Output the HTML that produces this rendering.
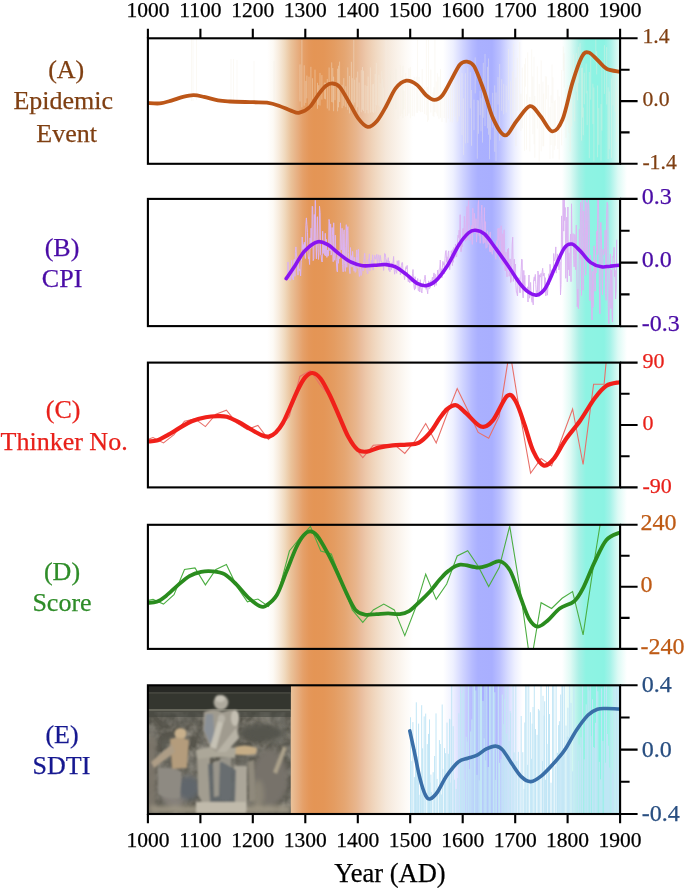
<!DOCTYPE html>
<html><head><meta charset="utf-8"><style>
html,body{margin:0;padding:0;background:#fff;width:685px;height:889px;overflow:hidden}
svg{display:block;font-family:"Liberation Serif",serif;will-change:transform}
</style></head><body>
<svg width="685" height="889" viewBox="0 0 685 889">
<defs><linearGradient id="gO" gradientUnits="userSpaceOnUse" x1="267.0" x2="413.0" y1="0" y2="0"><stop offset="0.0000" stop-color="#ffffff"/><stop offset="0.0411" stop-color="#fdfaf5"/><stop offset="0.0822" stop-color="#f7ebdc"/><stop offset="0.1233" stop-color="#f0d9bd"/><stop offset="0.1644" stop-color="#eac29a"/><stop offset="0.2055" stop-color="#e7b083"/><stop offset="0.2466" stop-color="#e5a069"/><stop offset="0.2877" stop-color="#e4975a"/><stop offset="0.3219" stop-color="#e49555"/><stop offset="0.3904" stop-color="#e49657"/><stop offset="0.4589" stop-color="#e49c61"/><stop offset="0.5342" stop-color="#e5a672"/><stop offset="0.6096" stop-color="#e8b58c"/><stop offset="0.6507" stop-color="#eabfa0"/><stop offset="0.6781" stop-color="#edc8aa"/><stop offset="0.7466" stop-color="#f1d9c2"/><stop offset="0.8151" stop-color="#f5e7d9"/><stop offset="0.8836" stop-color="#f9f1e8"/><stop offset="0.9521" stop-color="#fdfaf6"/><stop offset="1.0000" stop-color="#ffffff"/></linearGradient><linearGradient id="gB" gradientUnits="userSpaceOnUse" x1="443.0" x2="523.0" y1="0" y2="0"><stop offset="0.0000" stop-color="#ffffff"/><stop offset="0.1250" stop-color="#eef0ff"/><stop offset="0.2500" stop-color="#cfd3ff"/><stop offset="0.3625" stop-color="#b6bbff"/><stop offset="0.4375" stop-color="#aab0ff"/><stop offset="0.6125" stop-color="#a9afff"/><stop offset="0.7125" stop-color="#bcc1ff"/><stop offset="0.8125" stop-color="#d8dcff"/><stop offset="0.9000" stop-color="#eef0ff"/><stop offset="1.0000" stop-color="#ffffff"/></linearGradient><linearGradient id="gC" gradientUnits="userSpaceOnUse" x1="562.0" x2="627.0" y1="0" y2="0"><stop offset="0.0000" stop-color="#ffffff"/><stop offset="0.1231" stop-color="#e1faf5"/><stop offset="0.2615" stop-color="#aaf0e6"/><stop offset="0.3692" stop-color="#8ef3e3"/><stop offset="0.6462" stop-color="#8bf3e3"/><stop offset="0.7385" stop-color="#a5f2e8"/><stop offset="0.8615" stop-color="#dcfaf5"/><stop offset="1.0000" stop-color="#ffffff"/></linearGradient>
<filter id="bl1" x="-20%" y="-20%" width="140%" height="140%"><feGaussianBlur stdDeviation="1.2"/></filter>
<filter id="bl2" x="-20%" y="-20%" width="140%" height="140%"><feGaussianBlur stdDeviation="2.5"/></filter>
<filter id="nz" x="0" y="0" width="100%" height="100%"><feTurbulence type="fractalNoise" baseFrequency="0.07" numOctaves="3" seed="4"/><feColorMatrix type="matrix" values="0 0 0 0 0.66  0 0 0 0 0.62  0 0 0 0 0.55  2.2 0 0 0 -0.85"/></filter>
<filter id="nz2" x="0" y="0" width="100%" height="100%"><feTurbulence type="fractalNoise" baseFrequency="0.08" numOctaves="3" seed="9"/><feColorMatrix type="matrix" values="0 0 0 0 0.15  0 0 0 0 0.15  0 0 0 0 0.13  2.2 0 0 0 -0.9"/></filter>

<clipPath id="cpA"><rect x="147.9" y="38.3" width="472.2" height="125.5"/></clipPath>
<clipPath id="cpB"><rect x="147.9" y="198.9" width="472.2" height="127.2"/></clipPath>
<clipPath id="cpC"><rect x="147.9" y="362.6" width="472.2" height="124.8"/></clipPath>
<clipPath id="cpD"><rect x="147.9" y="524.8" width="472.2" height="124.1"/></clipPath>
<clipPath id="cpE"><rect x="147.9" y="685.3" width="472.2" height="128.7"/></clipPath>
</defs>
<rect x="267.0" y="38.5" width="146.0" height="775.3" fill="url(#gO)"/>
<rect x="443.0" y="38.5" width="80.0" height="775.3" fill="url(#gB)"/>
<rect x="562.0" y="38.5" width="65.0" height="775.3" fill="url(#gC)"/>
<rect x="621" y="38.3" width="10" height="125.5" fill="#fff"/>
<rect x="621" y="198.9" width="10" height="127.2" fill="#fff"/>
<rect x="621" y="362.6" width="10" height="124.8" fill="#fff"/>
<rect x="621" y="524.8" width="10" height="124.1" fill="#fff"/>
<rect x="621" y="685.3" width="10" height="128.7" fill="#fff"/>
<path d="M191.5,39.0V101.0 M193.0,39.0V101.0 M196.5,39.0V100.0 M231.0,59.0V101.0 M233.5,59.0V101.0 M237.0,60.0V101.0 M254.0,61.0V101.0 M274.0,61.0V104.0 M300.0,101.5V64.4 M301.9,107.4V40.0 M304.2,105.7V65.3 M305.8,102.9V80.9 M306.9,98.4V75.6 M309.0,108.2V76.7 M310.9,108.9V66.8 M312.6,98.9V78.2 M315.0,100.1V69.6 M317.5,108.8V82.8 M318.7,104.9V85.2 M320.0,105.6V72.9 M321.9,99.6V75.1 M324.4,98.8V82.6 M325.5,99.3V82.8 M327.3,108.5V79.0 M329.1,110.5V67.5 M331.7,102.0V62.4 M332.8,102.5V68.0 M333.6,111.2V76.7 M335.0,100.2V84.0 M337.6,111.3V68.7 M338.5,107.4V65.7 M339.6,102.0V61.6 M342.1,108.2V84.8 M343.8,105.8V78.1 M345.8,107.1V86.3 M347.8,109.8V67.4 M349.6,113.4V75.9 M351.4,106.4V61.8 M352.3,108.3V78.2 M353.8,105.2V40.0 M354.7,102.6V79.7 M356.3,110.5V77.5 M357.7,107.3V71.6 M359.1,114.3V82.5 M361.3,112.2V70.2 M362.5,109.8V67.0 M363.5,111.1V70.7 M365.1,113.3V85.2 M367.0,110.1V86.1 M368.1,113.4V76.6 M370.4,112.6V67.4 M372.3,112.0V84.3 M373.6,113.0V84.0 M375.2,111.5V74.0 M376.3,105.3V62.9 M378.9,105.5V74.7 M380.1,107.0V83.1 M381.8,113.1V70.9 M382.7,113.9V79.1 M383.6,109.1V87.6 M386.0,110.8V40.0 M388.2,114.3V68.1 M389.9,106.8V74.8 M391.3,107.9V70.5 M393.5,116.2V73.3 M395.8,109.3V68.6 M398.0,118.9V86.4 M400.4,116.0V65.6 M402.1,113.8V75.8 M402.9,118.1V65.9 M403.9,109.4V90.8 M405.6,116.1V73.1 M407.5,115.8V80.6 M408.9,113.6V68.1 M410.4,118.3V67.1 M412.3,116.1V86.1 M414.2,116.4V76.8 M416.3,112.8V76.6 M417.5,112.9V40.0 M419.1,110.8V76.9 M420.6,112.1V89.8 M422.2,112.0V69.0 M424.6,114.0V87.2 M426.4,115.2V40.0 M427.5,121.8V86.9 M428.5,120.3V40.0 M430.8,112.6V69.4 M433.1,116.0V92.0 M433.9,116.9V87.1 M434.9,112.0V40.0 M436.3,113.4V81.7 M437.4,116.1V73.3 M438.9,118.9V76.6 M440.5,117.8V69.0 M442.0,122.1V87.1 M444.2,118.0V85.2 M446.2,122.7V91.4 M448.3,118.5V92.0 M450.4,121.7V72.4 M452.3,122.3V76.0 M454.8,116.9V75.7 M457.1,122.5V83.6 M457.9,121.2V80.8 M459.4,116.6V76.7 M462.0,135.0V73.1 M463.6,155.0V98.3 M465.4,143.5V73.2 M467.8,142.9V67.4 M470.3,108.4V72.2 M471.5,145.8V90.0 M474.0,130.1V99.6 M475.2,93.4V57.4 M477.3,158.7V100.0 M478.5,133.8V100.4 M480.1,115.2V90.8 M481.0,131.3V98.2 M482.5,142.6V80.2 M483.3,117.8V62.8 M485.0,126.0V53.9 M487.5,128.3V66.8 M488.5,134.7V58.5 M489.5,159.3V102.0 M490.5,139.7V105.8 M492.7,127.6V92.8 M494.7,151.8V85.4 M496.0,161.0V92.5 M498.0,104.5V77.1 M499.7,140.7V64.0 M501.7,110.8V79.2 M503.7,114.4V83.8 M506.1,112.6V85.5 M508.5,100.2V49.0 M510.6,135.6V81.4 M512.6,113.8V71.5 M513.7,134.8V43.9 M515.9,146.0V77.6 M517.3,110.5V57.9 M519.7,113.0V42.0 M520.9,131.1V93.6 M522.3,128.4V67.6 M524.5,150.9V64.1 M525.5,86.7V58.2 M526.5,149.7V94.3 M527.7,110.2V52.4 M529.8,151.4V96.9 M531.7,106.7V49.4 M532.8,134.3V76.5 M534.0,144.2V56.8 M534.8,157.9V96.0 M537.3,128.6V66.2 M539.2,161.6V84.0 M541.2,151.4V60.3 M542.9,146.3V81.7 M543.7,146.3V93.7 M545.4,127.0V76.2 M546.5,99.1V76.6 M548.2,130.7V84.9 M550.0,159.1V107.1 M551.1,145.0V95.3 M552.0,102.9V64.6 M552.9,158.4V77.3 M554.3,150.1V100.8 M555.3,145.8V99.9 M557.8,149.2V89.8 M559.2,159.8V96.3 M561.6,145.3V70.0 M563.3,70.9V46.7 M564.2,87.7V53.2 M565.9,137.9V88.6 M567.5,122.7V85.1 M569.1,132.9V92.8 M570.2,151.7V102.9 M571.7,126.4V65.3 M573.5,75.1V54.9 M574.7,121.5V94.6 M576.4,91.7V52.9 M577.5,100.3V67.7 M578.3,83.0V46.8 M580.0,65.5V43.2 M581.6,140.7V67.9 M582.5,117.5V67.6 M583.3,135.3V107.6 M584.3,104.3V72.7 M586.2,93.4V63.6 M587.1,125.1V90.7 M589.3,158.2V72.0 M590.7,99.7V56.7 M592.9,124.1V83.7 M593.9,161.3V87.5 M595.8,62.4V39.3 M596.7,74.5V51.1 M597.6,157.3V85.5 M598.8,144.8V108.1 M601.0,160.7V104.1 M601.9,130.6V60.6 M604.4,93.9V45.2 M606.7,104.5V47.1 M608.1,159.0V87.3 M609.3,149.3V91.5 M611.6,158.0V78.3 M613.0,105.5V68.4 M615.2,112.0V73.1 M616.3,142.2V90.2 M618.4,123.7V66.5 M619.5,110.7V89.5" stroke="#f4eee2" stroke-width="0.7" fill="none" opacity="0.55" clip-path="url(#cpA)"/>
<path d="M147.5,102.9 C149.5,103.0 155.7,103.8 159.7,103.4 C163.7,103.0 167.5,101.7 171.4,100.6 C175.3,99.5 179.3,97.8 183.0,96.9 C186.7,96.0 190.0,95.2 193.5,95.2 C197.0,95.2 199.9,96.0 204.0,96.9 C208.1,97.8 213.7,99.6 218.0,100.4 C222.3,101.2 224.0,101.2 229.8,101.5 C235.6,101.8 246.8,102.0 253.0,102.2 C259.2,102.4 262.7,102.1 267.0,102.7 C271.3,103.3 274.7,104.3 278.8,105.7 C282.9,107.1 288.1,109.7 291.5,110.9 C294.9,112.1 296.4,113.4 299.5,112.7 C302.6,112.0 306.6,110.1 309.8,107.0 C313.0,103.9 316.1,97.6 318.7,94.1 C321.3,90.6 323.4,87.7 325.7,85.9 C328.0,84.1 330.4,83.3 332.7,83.5 C335.0,83.7 337.0,83.9 339.7,87.0 C342.4,90.1 345.9,96.9 349.0,102.2 C352.1,107.5 355.3,114.5 358.4,118.6 C361.5,122.7 364.6,126.4 367.7,126.8 C370.8,127.2 373.9,124.4 377.0,120.9 C380.1,117.4 383.3,111.2 386.4,105.7 C389.5,100.2 392.5,92.4 395.8,88.2 C399.1,84.0 402.8,81.3 406.3,80.7 C409.8,80.1 413.5,82.3 416.8,84.7 C420.1,87.1 423.2,92.7 426.1,95.2 C429.0,97.7 431.6,99.9 434.3,99.9 C437.0,99.9 439.6,98.7 442.5,95.2 C445.4,91.7 448.9,84.0 451.8,78.9 C454.7,73.8 457.4,67.4 460.0,64.5 C462.6,61.6 464.7,61.4 467.1,61.7 C469.5,62.0 471.4,61.7 474.2,66.4 C477.0,71.1 480.5,81.3 483.7,90.0 C486.9,98.7 489.6,110.8 493.1,118.4 C496.6,126.0 500.9,135.0 504.9,135.4 C508.8,135.8 512.6,125.7 516.8,120.8 C520.9,115.9 525.9,106.9 529.8,106.1 C533.7,105.3 536.7,111.8 540.4,116.0 C544.1,120.2 548.5,130.8 552.2,131.4 C555.9,132.0 559.1,127.7 562.5,119.6 C565.9,111.5 569.2,93.4 572.4,82.9 C575.6,72.5 579.1,62.0 581.8,56.9 C584.5,51.8 586.0,51.9 588.7,52.5 C591.4,53.1 595.0,57.8 598.0,60.5 C601.0,63.2 603.0,66.8 606.6,68.7 C610.2,70.6 617.5,71.3 619.7,71.8" stroke="#bc5618" stroke-width="3.8" fill="none" stroke-linecap="round" stroke-linejoin="round" clip-path="url(#cpA)"/>
<path d="M287.0,278.6 L287.5,275.0 L288.0,262.0 L288.6,273.4 L289.1,273.8 L289.6,270.7 L290.1,280.4 L290.7,273.3 L291.2,267.4 L291.7,260.4 L292.2,278.5 L292.8,275.7 L293.3,280.0 L293.8,260.5 L294.3,259.1 L294.9,276.4 L295.4,252.3 L295.9,246.9 L296.4,255.1 L297.0,257.3 L297.5,269.8 L298.0,275.1 L298.5,262.3 L299.1,271.1 L299.6,268.9 L300.1,269.8 L300.6,276.0 L301.2,261.3 L301.7,258.5 L302.2,237.0 L302.7,249.3 L303.3,244.5 L303.8,250.5 L304.3,242.2 L304.8,251.3 L305.4,258.5 L305.9,225.6 L306.4,217.9 L306.9,224.5 L307.5,232.8 L308.0,253.1 L308.5,258.7 L309.0,257.4 L309.6,264.5 L310.1,237.9 L310.6,249.0 L311.1,228.2 L311.7,247.6 L312.2,206.1 L312.7,206.7 L313.2,260.6 L313.8,258.7 L314.3,214.5 L314.8,240.4 L315.3,200.3 L315.9,243.1 L316.4,258.9 L316.9,238.2 L317.4,216.7 L318.0,248.7 L318.5,259.4 L319.0,252.3 L319.5,206.2 L320.1,212.7 L320.6,254.9 L321.1,255.1 L321.6,260.8 L322.2,262.0 L322.7,231.2 L323.2,253.5 L323.7,243.5 L324.3,245.6 L324.8,255.2 L325.3,233.3 L325.8,256.0 L326.4,239.4 L326.9,257.4 L327.4,250.0 L327.9,256.1 L328.5,255.7 L329.0,219.4 L329.5,221.5 L330.0,250.8 L330.6,223.9 L331.1,255.1 L331.6,253.1 L332.1,227.5 L332.7,235.5 L333.2,261.7 L333.7,222.8 L334.2,257.1 L334.8,260.3 L335.3,235.2 L335.8,256.1 L336.3,260.5 L336.9,270.2 L337.4,271.9 L337.9,253.6 L338.4,263.3 L339.0,250.2 L339.5,258.7 L340.0,257.2 L340.5,222.9 L341.1,250.0 L341.6,249.2 L342.1,228.3 L342.6,265.6 L343.2,271.8 L343.7,233.3 L344.2,229.8 L344.7,264.5 L345.3,271.4 L345.8,246.3 L346.3,224.7 L346.8,267.3 L347.4,230.2 L347.9,226.6 L348.4,252.5 L348.9,261.6 L349.5,270.1 L350.0,273.6 L350.5,247.6 L351.0,266.4 L351.6,255.7 L352.1,267.2 L352.6,251.4 L353.1,256.7 L353.7,266.9 L354.2,271.2 L354.7,257.3 L355.2,272.4 L355.8,271.5 L356.3,264.0 L356.8,249.9 L357.3,256.7 L357.9,268.3 L358.4,249.2 L358.9,269.5 L359.4,276.5 L360.0,272.4 L360.5,267.7 L361.0,275.6 L361.5,274.7 L362.1,268.6 L362.6,265.0 L363.1,270.9 L363.6,268.7 L364.2,257.8 L364.7,253.3 L365.2,259.6 L365.7,260.1 L366.3,262.6 L366.8,270.4 L367.3,273.2 L367.8,274.0 L368.4,259.0 L368.9,259.7 L369.4,253.9 L369.9,270.9 L370.5,264.1 L371.0,265.5 L371.5,260.3 L372.0,267.3 L372.6,254.8 L373.1,270.1 L373.6,265.6 L374.1,260.1 L374.7,255.3 L375.2,257.9 L375.7,259.2 L376.2,257.4 L376.8,254.3 L377.3,265.9 L377.8,261.2 L378.3,255.3 L378.9,254.8 L379.4,264.8 L379.9,258.4 L380.4,255.5 L381.0,261.4 L381.5,261.4 L382.0,266.1 L382.5,263.3 L383.1,262.1 L383.6,270.4 L384.1,263.4 L384.6,253.4 L385.2,253.9 L385.7,257.4 L386.2,265.3 L386.7,259.7 L387.3,262.1 L387.8,265.5 L388.3,257.7 L388.8,270.3 L389.4,261.4 L389.9,271.8 L390.4,265.3 L390.9,266.0 L391.5,269.8 L392.0,262.8 L392.5,265.6 L393.0,263.6 L393.6,256.5 L394.1,268.8 L394.6,274.2 L395.1,271.2 L395.7,264.4 L396.2,271.3 L396.7,273.3 L397.2,260.8 L397.8,263.4 L398.3,269.0 L398.8,260.5 L399.3,271.0 L399.9,266.7 L400.4,274.7 L400.9,272.7 L401.4,265.7 L402.0,262.4 L402.5,262.7 L403.0,272.5 L403.5,271.0 L404.1,275.6 L404.6,279.6 L405.1,275.0 L405.6,267.9 L406.2,266.5 L406.7,269.1 L407.2,265.4 L407.7,277.5 L408.3,281.7 L408.8,278.4 L409.3,280.9 L409.8,282.7 L410.4,280.2 L410.9,276.4 L411.4,278.4 L411.9,282.0 L412.5,273.7 L413.0,269.5 L413.5,279.2 L414.0,287.4 L414.6,290.1 L415.1,276.7 L415.6,288.6 L416.1,280.1 L416.7,281.2 L417.2,286.1 L417.7,278.5 L418.2,290.5 L418.8,290.9 L419.3,286.0 L419.8,292.0 L420.3,279.7 L420.9,287.7 L421.4,290.8 L421.9,293.0 L422.4,284.2 L423.0,285.5 L423.5,282.6 L424.0,281.6 L424.5,278.6 L425.1,275.2 L425.6,279.8 L426.1,289.4 L426.6,286.6 L427.2,290.6 L427.7,293.8 L428.2,286.9 L428.7,280.8 L429.3,288.7 L429.8,288.4 L430.3,287.0 L430.8,280.4 L431.4,282.1 L431.9,280.4 L432.4,277.2 L432.9,283.1 L433.5,276.6 L434.0,272.9 L434.5,286.6 L435.0,274.2 L435.6,275.3 L436.1,285.4 L436.6,281.4 L437.1,277.0 L437.7,270.1 L438.2,278.2 L438.7,275.8 L439.2,268.8 L439.8,268.4 L440.3,260.0 L440.8,272.3 L441.3,268.8 L441.9,277.9 L442.4,267.3 L442.9,261.4 L443.4,264.7 L444.0,262.7 L444.5,274.0 L445.0,258.6 L445.5,252.2 L446.1,250.5 L446.6,262.3 L447.1,256.8 L447.6,267.5 L448.2,253.2 L448.7,250.9 L449.2,263.6 L449.7,269.7 L450.3,263.3 L450.8,258.9 L451.3,250.7 L451.8,256.4 L452.4,265.6 L452.9,249.5 L453.4,262.3 L453.9,247.5 L454.5,258.3 L455.0,256.2 L455.5,244.0 L456.0,256.0 L456.6,257.0 L457.1,249.4 L457.6,241.1 L458.1,235.2 L458.7,237.6 L459.2,230.1 L459.7,241.1 L460.2,214.7 L460.8,251.7 L461.3,251.7 L461.8,242.4 L462.3,246.8 L462.9,228.6 L463.4,228.5 L463.9,235.0 L464.4,216.3 L465.0,229.3 L465.5,241.3 L466.0,240.3 L466.5,216.1 L467.1,206.5 L467.6,239.7 L468.1,214.4 L468.6,200.6 L469.2,224.8 L469.7,226.5 L470.2,240.3 L470.7,232.6 L471.3,231.9 L471.8,225.3 L472.3,244.4 L472.8,208.2 L473.4,225.4 L473.9,233.1 L474.4,213.3 L474.9,223.1 L475.5,229.3 L476.0,218.7 L476.5,242.1 L477.0,232.1 L477.6,233.9 L478.1,204.7 L478.6,200.5 L479.1,235.5 L479.7,233.6 L480.2,243.3 L480.7,236.6 L481.2,215.3 L481.8,205.1 L482.3,229.0 L482.8,238.3 L483.3,243.5 L483.9,230.8 L484.4,207.6 L484.9,242.7 L485.4,221.6 L486.0,248.3 L486.5,247.8 L487.0,247.3 L487.5,230.8 L488.1,243.0 L488.6,244.3 L489.1,234.8 L489.6,251.5 L490.2,231.9 L490.7,252.0 L491.2,244.4 L491.7,250.9 L492.3,254.3 L492.8,245.9 L493.3,247.5 L493.8,250.1 L494.4,250.1 L494.9,247.1 L495.4,257.9 L495.9,259.3 L496.5,245.8 L497.0,240.6 L497.5,247.1 L498.0,228.5 L498.6,240.6 L499.1,228.0 L499.6,259.3 L500.1,241.6 L500.7,232.9 L501.2,225.8 L501.7,259.4 L502.2,263.4 L502.8,233.8 L503.3,264.9 L503.8,230.5 L504.3,229.8 L504.9,269.0 L505.4,271.0 L505.9,252.2 L506.4,269.4 L507.0,276.9 L507.5,249.3 L508.0,266.5 L508.5,248.2 L509.1,276.3 L509.6,272.6 L510.1,258.9 L510.6,282.5 L511.2,281.5 L511.7,264.4 L512.2,244.2 L512.7,237.2 L513.3,281.4 L513.8,275.7 L514.3,259.2 L514.8,272.5 L515.4,264.1 L515.9,285.3 L516.4,292.2 L516.9,293.1 L517.5,296.0 L518.0,282.3 L518.5,281.2 L519.0,277.7 L519.6,292.7 L520.1,292.2 L520.6,292.5 L521.1,271.9 L521.7,259.1 L522.2,260.0 L522.7,292.9 L523.2,297.9 L523.8,270.4 L524.3,286.2 L524.8,275.3 L525.3,291.5 L525.9,290.6 L526.4,289.7 L526.9,292.0 L527.4,286.8 L528.0,302.0 L528.5,286.9 L529.0,275.0 L529.5,298.2 L530.1,295.0 L530.6,282.4 L531.1,294.3 L531.6,300.4 L532.2,302.4 L532.7,295.1 L533.2,304.9 L533.7,279.8 L534.3,276.8 L534.8,280.9 L535.3,274.4 L535.8,284.3 L536.4,295.8 L536.9,290.5 L537.4,293.7 L537.9,271.0 L538.5,274.6 L539.0,297.1 L539.5,274.8 L540.0,277.2 L540.6,275.7 L541.1,273.3 L541.6,291.6 L542.1,271.9 L542.7,268.3 L543.2,276.1 L543.7,273.8 L544.2,273.1 L544.8,289.2 L545.3,277.7 L545.8,295.9 L546.3,291.4 L546.9,286.7 L547.4,295.2 L547.9,288.2 L548.4,277.3 L549.0,273.7 L549.5,284.7 L550.0,264.3 L550.5,268.5 L551.1,278.6 L551.6,270.1 L552.1,270.4 L552.6,270.8 L553.2,273.8 L553.7,253.5 L554.2,260.9 L554.7,259.4 L555.3,256.1 L555.8,246.9 L556.3,273.1 L556.8,262.3 L557.4,253.9 L557.9,265.9 L558.4,263.5 L558.9,270.0 L559.5,267.2 L560.0,261.7 L560.5,294.9 L561.0,284.6 L561.6,215.9 L562.1,239.5 L562.6,248.0 L563.1,197.4 L563.7,231.1 L564.2,189.1 L564.7,220.6 L565.2,207.5 L565.8,278.3 L566.3,244.0 L566.8,217.1 L567.3,281.9 L567.9,207.0 L568.4,269.7 L568.9,252.9 L569.4,275.9 L570.0,251.6 L570.5,234.0 L571.0,281.7 L571.5,203.8 L572.1,244.9 L572.6,241.9 L573.1,233.6 L573.6,255.6 L574.2,266.9 L574.7,234.4 L575.2,236.4 L575.7,269.7 L576.3,225.1 L576.8,267.0 L577.3,306.8 L577.8,289.2 L578.4,308.7 L578.9,300.2 L579.4,229.2 L579.9,259.3 L580.5,202.3 L581.0,210.2 L581.5,295.5 L582.0,200.2 L582.6,186.1 L583.1,290.1 L583.6,211.0 L584.1,255.5 L584.7,258.4 L585.2,196.4 L585.7,275.2 L586.2,258.6 L586.8,202.4 L587.3,219.1 L587.8,255.4 L588.3,197.8 L588.9,207.5 L589.4,237.2 L589.9,300.6 L590.4,255.2 L591.0,266.4 L591.5,296.8 L592.0,320.0 L592.5,271.5 L593.1,307.2 L593.6,278.9 L594.1,245.9 L594.6,265.9 L595.2,291.3 L595.7,260.2 L596.2,273.0 L596.7,231.3 L597.3,254.5 L597.8,199.5 L598.3,194.5 L598.8,221.6 L599.4,287.6 L599.9,313.8 L600.4,227.0 L600.9,222.4 L601.5,241.9 L602.0,278.2 L602.5,294.6 L603.0,249.4 L603.6,254.9 L604.1,252.5 L604.6,246.7 L605.1,230.1 L605.7,294.9 L606.2,300.3 L606.7,212.7 L607.2,202.4 L607.8,205.1 L608.3,307.2 L608.8,323.6 L609.3,303.4 L609.9,282.0 L610.4,254.0 L610.9,308.5 L611.4,269.9 L612.0,314.6 L612.5,322.0 L613.0,256.2 L613.5,257.4 L614.1,247.3 L614.6,276.7 L615.1,270.3 L615.6,299.0 L616.2,289.8 L616.7,239.7" stroke="#dcb4f2" stroke-width="1" fill="none" clip-path="url(#cpB)"/>
<path d="M286.2,278.6 C287.7,276.5 292.0,270.2 295.0,265.7 C298.0,261.1 300.7,255.3 304.4,251.3 C308.1,247.3 313.3,243.0 317.2,241.9 C321.1,240.8 324.0,242.7 327.7,244.7 C331.4,246.7 335.5,251.2 339.4,254.1 C343.3,257.0 347.2,260.3 351.1,262.2 C355.0,264.1 358.9,265.2 362.8,265.7 C366.7,266.2 370.6,265.5 374.5,265.3 C378.4,265.1 382.6,264.3 386.1,264.6 C389.6,264.9 392.0,265.1 395.5,266.9 C399.0,268.6 403.6,272.4 407.2,275.1 C410.8,277.8 413.8,281.6 417.0,283.3 C420.2,285.1 423.3,286.0 426.4,285.6 C429.5,285.2 432.2,284.2 435.7,280.9 C439.2,277.6 443.5,271.7 447.4,265.7 C451.3,259.7 455.5,250.1 459.0,244.7 C462.5,239.2 465.7,235.4 468.4,233.0 C471.1,230.6 472.7,230.0 475.4,230.2 C478.1,230.4 481.2,231.0 484.7,234.2 C488.2,237.4 492.5,244.2 496.4,249.4 C500.3,254.7 504.2,260.1 508.1,265.7 C512.0,271.3 516.3,278.8 519.8,283.3 C523.3,287.8 526.2,290.7 529.1,292.6 C532.0,294.5 534.6,295.7 537.3,294.9 C540.0,294.1 542.6,292.4 545.5,287.9 C548.4,283.4 551.7,274.7 554.8,268.1 C557.9,261.5 561.4,252.2 564.2,248.2 C567.0,244.2 569.1,243.6 571.8,244.1 C574.5,244.6 577.0,247.8 580.2,250.9 C583.4,254.0 587.3,260.0 590.8,262.6 C594.3,265.2 598.2,266.2 601.4,266.8 C604.6,267.4 606.9,266.4 609.9,266.2 C612.9,265.9 617.8,265.4 619.4,265.3" stroke="#8a14f0" stroke-width="3.6" fill="none" stroke-linecap="round" stroke-linejoin="round" clip-path="url(#cpB)"/>
<path d="M147.5,439.4 L153.0,437.6 L163.5,442.9 L174.0,434.7 L184.5,421.2 L195.0,418.9 L205.4,426.6 L215.9,414.2 L226.4,410.2 L236.9,423.1 L247.4,429.6 L257.9,425.4 L268.4,439.4 L278.9,430.0 L289.4,416.0 L299.9,376.4 L310.4,370.5 L320.8,385.7 L331.3,398.0 L341.8,422.0 L352.3,445.0 L362.8,457.6 L373.3,445.3 L383.8,444.6 L394.3,444.6 L404.8,453.4 L415.2,440.6 L425.7,423.5 L436.2,442.9 L446.7,415.0 L457.2,388.6 L467.7,410.0 L478.2,432.4 L488.7,438.2 L499.2,416.3 L509.7,350.0 L520.2,415.0 L530.6,473.2 L541.1,458.6 L551.6,466.0 L562.1,437.5 L572.6,409.0 L583.1,464.5 L593.6,384.2 L604.1,384.2 L614.6,270.0" stroke="#e8706a" stroke-width="1.1" fill="none" clip-path="url(#cpC)"/>
<path d="M147.5,441.3 C149.0,441.2 153.2,441.7 156.7,440.6 C160.2,439.5 164.5,436.9 168.4,434.7 C172.3,432.5 176.1,429.9 180.0,427.7 C183.9,425.4 187.4,422.9 191.7,421.2 C196.0,419.4 201.4,418.0 205.7,417.2 C210.0,416.4 213.9,416.2 217.4,416.1 C220.9,416.0 223.3,415.8 226.8,416.8 C230.3,417.8 234.5,419.9 238.4,421.9 C242.3,423.9 246.2,426.7 250.1,428.9 C254.0,431.1 258.7,433.9 261.8,435.2 C264.9,436.5 266.5,437.1 268.8,436.6 C271.1,436.1 273.5,434.6 275.8,432.4 C278.1,430.1 280.5,427.2 282.8,423.1 C285.1,419.0 287.3,413.6 289.8,408.0 C292.3,402.4 295.5,394.6 298.0,389.5 C300.5,384.4 302.6,380.2 305.0,377.5 C307.4,374.8 309.9,372.8 312.5,373.0 C315.1,373.2 317.6,374.8 320.5,378.5 C323.4,382.2 326.6,388.7 329.7,395.0 C332.8,401.3 336.0,409.1 339.1,416.1 C342.2,423.1 345.3,431.5 348.4,437.1 C351.5,442.7 354.6,447.5 357.7,449.9 C360.8,452.3 363.6,452.0 367.1,451.6 C370.6,451.2 374.5,448.7 378.8,447.6 C383.1,446.6 388.1,445.8 392.8,445.3 C397.5,444.8 402.5,445.0 406.8,444.6 C411.1,444.2 414.6,444.9 418.5,442.9 C422.4,440.9 426.6,436.6 430.2,432.4 C433.8,428.2 437.1,421.7 440.0,417.8 C442.9,413.9 444.6,411.1 447.3,409.0 C450.0,406.9 452.9,404.5 456.1,405.2 C459.3,405.9 462.2,409.8 466.3,413.4 C470.4,416.9 476.5,425.3 480.9,426.5 C485.3,427.7 488.2,425.8 492.6,420.7 C497.0,415.6 503.3,399.1 507.2,395.9 C511.1,392.7 513.0,396.8 515.9,401.7 C518.8,406.6 521.8,416.8 524.7,425.1 C527.6,433.4 530.2,444.7 533.4,451.4 C536.5,458.1 540.2,464.2 543.6,465.4 C547.0,466.6 550.2,462.9 553.9,458.6 C557.5,454.3 561.1,446.0 565.5,439.7 C569.9,433.4 575.2,427.6 580.1,420.7 C585.0,413.8 590.3,404.0 594.7,398.2 C599.1,392.4 602.2,388.4 606.4,385.7 C610.5,383.0 617.4,382.8 619.6,382.2" stroke="#f0201a" stroke-width="4.2" fill="none" stroke-linecap="round" stroke-linejoin="round" clip-path="url(#cpC)"/>
<path d="M147.5,600.6 L153.0,599.4 L163.5,604.1 L174.0,594.7 L184.5,569.5 L195.0,567.9 L205.4,584.9 L215.9,569.5 L226.4,564.4 L236.9,586.6 L247.4,601.8 L257.9,599.0 L268.4,606.4 L278.9,590.1 L289.4,551.0 L299.9,538.0 L310.4,526.4 L320.8,551.0 L331.3,554.0 L341.8,582.0 L352.3,609.9 L362.8,622.3 L373.3,609.9 L383.8,604.1 L394.3,609.9 L404.8,635.6 L415.2,608.8 L425.7,574.2 L436.2,599.4 L446.7,584.0 L457.2,556.0 L467.7,550.7 L478.2,566.2 L488.7,586.6 L499.2,567.6 L509.7,526.2 L520.2,590.0 L530.6,665.0 L541.1,602.7 L551.6,608.5 L562.1,598.3 L572.6,591.6 L583.1,634.8 L593.6,565.0 L604.1,500.0 L614.6,480.0" stroke="#4cae42" stroke-width="1.1" fill="none" clip-path="url(#cpD)"/>
<path d="M147.5,602.9 C149.0,602.7 153.6,603.0 156.7,601.8 C159.8,600.6 162.5,598.6 166.0,595.9 C169.5,593.2 173.8,588.7 177.7,585.4 C181.6,582.1 185.5,578.4 189.4,576.1 C193.3,573.9 197.2,572.7 201.1,571.9 C205.0,571.1 208.8,571.0 212.7,571.4 C216.6,571.8 220.5,572.1 224.4,574.2 C228.3,576.3 232.2,580.4 236.1,584.2 C240.0,588.0 243.9,593.5 247.8,597.1 C251.7,600.7 256.4,604.6 259.5,606.0 C262.6,607.4 263.6,607.2 266.5,605.3 C269.4,603.4 273.7,600.4 277.0,594.7 C280.3,589.1 283.3,579.2 286.5,571.4 C289.7,563.6 293.2,554.0 296.0,548.0 C298.8,542.0 301.1,538.3 303.5,535.5 C305.9,532.7 307.9,531.4 310.2,531.4 C312.4,531.4 314.1,532.0 317.0,535.5 C319.9,539.0 324.1,546.7 327.4,552.7 C330.7,558.7 333.6,564.8 336.7,571.4 C339.8,578.0 343.0,586.0 346.1,592.4 C349.2,598.8 352.3,606.2 355.4,609.9 C358.5,613.6 361.2,613.9 364.7,614.6 C368.2,615.3 372.5,614.3 376.4,614.1 C380.3,613.9 384.2,613.4 388.1,613.4 C392.0,613.4 396.3,614.5 399.8,614.1 C403.3,613.7 406.0,613.0 409.1,611.1 C412.2,609.2 415.0,606.2 418.5,602.9 C422.0,599.6 426.6,595.1 430.2,591.2 C433.8,587.3 436.9,582.7 440.0,579.3 C443.1,575.9 445.4,573.0 448.8,570.6 C452.2,568.2 455.5,565.2 460.4,564.7 C465.3,564.2 473.1,567.6 478.0,567.6 C482.9,567.6 486.0,565.8 489.6,564.7 C493.2,563.6 496.5,560.2 499.9,561.2 C503.3,562.2 506.7,564.7 510.1,570.6 C513.5,576.5 517.1,588.8 520.3,596.8 C523.4,604.8 526.1,613.7 529.0,618.7 C531.9,623.7 534.6,626.4 537.8,626.6 C541.0,626.9 544.4,623.2 548.0,620.2 C551.6,617.2 555.3,611.7 559.7,608.5 C564.1,605.3 570.4,604.6 574.3,601.2 C578.2,597.8 579.7,594.7 583.1,588.1 C586.5,581.5 590.8,569.8 594.7,561.8 C598.6,553.8 602.2,544.8 606.4,539.9 C610.5,535.0 617.4,533.8 619.6,532.6" stroke="#2a8c1e" stroke-width="3.8" fill="none" stroke-linecap="round" stroke-linejoin="round" clip-path="url(#cpD)"/>
<path d="M410.5,813.4V717.3 M411.8,813.4V761.1 M412.9,813.4V722.1 M414.4,813.4V777.1 M415.5,813.4V749.0 M416.3,813.4V702.3 M417.2,813.4V756.4 M417.8,813.4V775.8 M418.6,813.4V723.6 M419.1,813.4V794.8 M420.5,813.4V783.4 M421.7,813.4V705.2 M422.6,813.4V748.3 M423.3,813.4V790.5 M424.2,813.4V716.4 M425.7,813.4V713.6 M427.3,813.4V744.1 M428.5,813.4V733.9 M429.5,813.4V719.4 M430.1,813.4V782.5 M430.9,813.4V774.6 M431.6,813.4V792.1 M433.2,813.4V772.2 M434.6,813.4V756.0 M436.0,813.4V713.4 M437.1,813.4V778.9 M437.8,813.4V787.9 M439.4,813.4V740.1 M440.3,813.4V744.0 M441.3,813.4V794.5 M442.2,813.4V704.5 M442.8,813.4V768.8 M444.5,813.4V748.1 M445.6,813.4V753.2 M447.0,813.4V722.6 M448.3,813.4V753.8 M449.5,813.4V718.8 M450.2,813.4V782.6 M451.1,813.4V719.3 M451.7,813.4V685.0 M453.2,813.4V726.2 M454.5,813.4V779.7 M456.2,813.4V788.9 M457.8,813.4V778.1 M458.9,813.4V713.2 M460.5,813.4V685.0 M461.1,813.4V766.9 M462.1,813.4V693.3 M463.0,813.4V685.0 M464.0,813.4V685.0 M464.5,813.4V779.7 M466.2,813.4V736.9 M467.0,813.4V741.6 M468.4,813.4V685.0 M469.2,813.4V769.1 M470.7,813.4V731.5 M471.9,813.4V719.4 M473.1,813.4V685.0 M474.5,813.4V685.0 M475.8,813.4V690.4 M477.0,813.4V774.9 M478.2,813.4V685.0 M479.2,813.4V780.4 M479.9,813.4V685.0 M480.5,813.4V685.0 M481.5,813.4V685.0 M483.0,813.4V700.9 M484.2,813.4V738.4 M485.0,813.4V685.0 M485.7,813.4V760.4 M486.8,813.4V685.0 M488.2,813.4V767.0 M489.6,813.4V685.0 M490.7,813.4V685.0 M492.1,813.4V685.0 M493.5,813.4V685.0 M494.8,813.4V692.3 M495.8,813.4V779.9 M496.6,813.4V744.0 M498.3,813.4V685.0 M499.5,813.4V762.9 M501.1,813.4V759.3 M502.3,813.4V694.5 M503.8,813.4V724.2 M504.6,813.4V699.0 M505.2,813.4V685.0 M506.7,813.4V733.7 M507.9,813.4V685.0 M509.2,813.4V740.8 M510.2,813.4V711.0 M510.7,813.4V713.2 M512.1,813.4V761.8 M513.1,813.4V685.0 M514.1,813.4V752.4 M515.8,813.4V685.0 M516.8,813.4V761.2 M518.4,813.4V751.9 M519.8,813.4V775.6 M521.2,813.4V716.0 M522.8,813.4V752.2 M524.2,813.4V788.9 M524.8,813.4V722.5 M525.7,813.4V685.0 M526.9,813.4V685.0 M527.7,813.4V764.8 M528.8,813.4V685.0 M530.4,813.4V712.2 M531.4,813.4V758.8 M532.2,813.4V723.6 M533.0,813.4V707.0 M534.3,813.4V685.0 M535.5,813.4V729.1 M537.1,813.4V734.8 M538.4,813.4V709.1 M539.3,813.4V710.5 M541.0,813.4V685.0 M542.5,813.4V761.1 M543.0,813.4V695.8 M544.2,813.4V715.5 M544.7,813.4V701.3 M545.6,813.4V779.7 M546.5,813.4V685.0 M548.0,813.4V743.9 M548.5,813.4V685.0 M549.5,813.4V714.1 M551.0,813.4V782.7 M552.6,813.4V685.0 M553.8,813.4V685.0 M555.3,813.4V766.4 M556.1,813.4V685.0 M557.5,813.4V752.8 M558.6,813.4V725.1 M559.4,813.4V721.2 M560.7,813.4V694.5 M561.3,813.4V750.4 M562.0,813.4V685.0 M562.6,813.4V685.0 M563.6,813.4V748.1 M564.3,813.4V685.0 M566.0,813.4V725.6 M567.3,813.4V736.3 M567.9,813.4V707.7 M568.4,813.4V737.0 M569.7,813.4V685.0 M571.0,813.4V702.9 M572.6,813.4V771.4 M573.9,813.4V685.0 M575.3,813.4V737.1 M576.9,813.4V723.9 M578.5,813.4V761.0 M579.0,813.4V744.5 M580.3,813.4V747.5 M581.0,813.4V737.3 M582.5,813.4V685.0 M584.2,813.4V759.4 M585.6,813.4V721.3 M586.2,813.4V704.4 M587.4,813.4V721.3 M588.0,813.4V685.0 M589.0,813.4V690.4 M590.3,813.4V685.0 M590.9,813.4V736.1 M592.5,813.4V699.3 M593.3,813.4V747.0 M594.7,813.4V747.9 M595.5,813.4V722.8 M596.6,813.4V685.0 M597.8,813.4V691.3 M599.3,813.4V761.9 M600.6,813.4V779.4 M601.6,813.4V688.3 M602.9,813.4V741.0 M604.6,813.4V685.0 M605.4,813.4V762.7 M606.4,813.4V685.0 M607.4,813.4V734.0 M608.4,813.4V745.8 M609.7,813.4V767.6 M611.1,813.4V711.0 M612.5,813.4V773.4 M613.2,813.4V769.9 M613.8,813.4V685.0 M615.1,813.4V685.0 M616.6,813.4V685.0 M617.9,813.4V685.0 M618.7,813.4V685.0 M619.8,813.4V708.0" stroke="#c2e6f6" stroke-width="1" fill="none" clip-path="url(#cpE)"/>
<path d="M409.8,730.9 C410.5,734.1 412.3,742.2 414.0,750.1 C415.7,758.0 417.9,770.5 419.9,778.1 C421.8,785.7 423.9,792.2 425.7,795.6 C427.4,799.0 428.4,799.3 430.4,798.7 C432.3,798.1 434.7,795.9 437.4,792.1 C440.1,788.3 443.2,780.8 446.7,775.8 C450.2,770.8 454.9,764.7 458.4,761.8 C461.9,758.9 464.6,759.4 467.7,758.3 C470.8,757.2 474.0,756.8 477.1,755.2 C480.2,753.6 483.3,750.4 486.4,748.9 C489.5,747.4 493.1,745.9 495.8,746.1 C498.5,746.3 500.1,747.1 502.8,750.1 C505.5,753.1 509.0,759.6 512.1,764.1 C515.2,768.6 518.4,774.0 521.5,776.9 C524.6,779.8 527.5,781.8 530.8,781.6 C534.1,781.4 537.7,778.7 541.4,775.8 C545.1,772.9 549.1,768.4 553.0,764.1 C556.9,759.8 560.8,755.8 564.7,750.1 C568.6,744.5 572.5,736.1 576.4,730.2 C580.3,724.4 584.6,718.5 588.1,715.0 C591.6,711.5 594.3,710.3 597.4,709.2 C600.5,708.1 603.1,708.5 606.8,708.5 C610.5,708.5 617.5,708.9 619.6,709.0" stroke="#3a6fa8" stroke-width="3.6" fill="none" stroke-linecap="round" stroke-linejoin="round" clip-path="url(#cpE)"/>
<clipPath id="cpPh"><rect x="148" y="685.5" width="142.7" height="127.5"/></clipPath>

<g clip-path="url(#cpPh)">
<rect x="148" y="685" width="143" height="128" fill="#57554c"/>
<rect x="148" y="712" width="143" height="101" filter="url(#nz)" opacity="0.45"/>
<rect x="148" y="712" width="143" height="101" filter="url(#nz2)" opacity="0.6"/>
<rect x="148" y="685" width="143" height="25" fill="#34362f"/>
<rect x="148" y="686" width="143" height="6.5" fill="#282925"/>
<rect x="148" y="692.3" width="143" height="1.2" fill="#4e4e46"/>
<rect x="148" y="709" width="143" height="2" fill="#66665b"/>
<rect x="148" y="711" width="143" height="6" fill="#43443d" opacity="0.6"/>
<g filter="url(#bl2)">
 <rect x="147" y="737" width="9" height="74" fill="#7c766a"/>
 <ellipse cx="175" cy="792" rx="15" ry="14" fill="#86817a"/>
 <ellipse cx="188" cy="788" rx="12" ry="12" fill="#60666c"/>
 <ellipse cx="262" cy="733" rx="22" ry="8" fill="#55554d"/>
 <ellipse cx="270" cy="778" rx="18" ry="28" fill="#77726a"/>
 <ellipse cx="258" cy="795" rx="6" ry="15" fill="#8a8476"/>
 <rect x="150" y="806" width="140" height="7" fill="#9e9684"/>
</g>
<g filter="url(#bl1)">
 <ellipse cx="180.5" cy="733.5" rx="6" ry="5.5" fill="#c8b08c"/>
 <path d="M170,739 Q179,736 189,740 L187,768 L172,769 Z" fill="#b49c7c"/>
 <path d="M172,744 L151,762 L154,768 L175,752 Z" fill="#ad9d86"/>
 <path d="M158,768 Q172,766 182,772 L180,798 Q168,800 158,794 Z" fill="#8e8a82"/>
 <path d="M233,748 Q244,743 257,748 L256,754 Q244,756 232,754 Z" fill="#c6ad86"/>
 <path d="M283,746 L287,748 L277,774 L273,772 Z" fill="#aaa08a"/>
 <path d="M248,762 L254,760 L256,800 L249,802 Z" fill="#8f897b"/>
 <rect x="234" y="766" width="13" height="45" fill="#aba699"/>
 <path d="M197,756 L210,755 L210,797 L215,802 L203,804 L198,795 Z" fill="#a29d90"/>
 <path d="M220,758 L231,757 L232,797 L228,802 L220,800 Z" fill="#98948a"/>
 <path d="M208,764 L222,762 L236,770 L235,802 L210,802 Z" fill="#62686c" opacity="0.9"/>
 <path d="M213,762 L220,760 L219,796 L214,797 Z" fill="#9a968c"/>
 <path d="M196,750 Q215,744 236,748 L235,758 Q215,756 197,759 Z" fill="#aca799"/>
 <path d="M204,712 Q214,707 222,712 L230,710 Q238,709 239,716 L237,740 L226,752 L216,752 L210,747 L203,730 Z" fill="#a09b8f"/>
 <ellipse cx="235" cy="718" rx="4" ry="8" fill="#c4bfb2"/>
 <path d="M206,714 L213,714 L215,740 L210,744 L204,730 Z" fill="#8a9096"/>
 <path d="M210,747 L216,749 L224,720 L219,717 Z" fill="#c6c2b5"/>
 <path d="M236,728 L239,738 L226,752 L217,752 Z" fill="#b8b3a6"/>
 <ellipse cx="221.5" cy="718.5" rx="3.5" ry="4" fill="#b8b4a8"/>
 <ellipse cx="221" cy="702.5" rx="7.3" ry="7.5" fill="#aeaa9e"/>
 <ellipse cx="220" cy="698.5" rx="5" ry="3.5" fill="#c6c2b6"/>
 <rect x="196" y="802" width="50" height="11" fill="#c0baab"/>
</g>
</g>

<rect x="147.9" y="38.3" width="472.2" height="125.5" fill="none" stroke="#000" stroke-width="2.1"/>
<rect x="147.9" y="198.9" width="472.2" height="127.2" fill="none" stroke="#000" stroke-width="2.1"/>
<rect x="147.9" y="362.6" width="472.2" height="124.8" fill="none" stroke="#000" stroke-width="2.1"/>
<rect x="147.9" y="524.8" width="472.2" height="124.1" fill="none" stroke="#000" stroke-width="2.1"/>
<rect x="147.9" y="685.3" width="472.2" height="128.7" fill="none" stroke="#000" stroke-width="2.1"/>
<path d="M147.9,38.3V28.8 M147.9,814.0V823.3 M200.4,38.3V28.8 M200.4,814.0V823.3 M252.8,38.3V28.8 M252.8,814.0V823.3 M305.3,38.3V28.8 M305.3,814.0V823.3 M357.8,38.3V28.8 M357.8,814.0V823.3 M410.2,38.3V28.8 M410.2,814.0V823.3 M462.7,38.3V28.8 M462.7,814.0V823.3 M515.2,38.3V28.8 M515.2,814.0V823.3 M567.6,38.3V28.8 M567.6,814.0V823.3 M620.1,38.3V28.8 M620.1,814.0V823.3 M620.1,38.3H637.6 M620.1,69.7H629.6 M620.1,101.1H637.6 M620.1,132.4H629.6 M620.1,163.8H637.6 M620.1,198.9H637.6 M620.1,230.8H629.6 M620.1,262.6H637.6 M620.1,294.4H629.6 M620.1,326.2H637.6 M620.1,362.6H637.6 M620.1,393.8H629.6 M620.1,425.0H637.6 M620.1,456.2H629.6 M620.1,487.4H637.6 M620.1,524.8H637.6 M620.1,555.8H629.6 M620.1,586.8H637.6 M620.1,617.9H629.6 M620.1,648.9H637.6 M620.1,685.3H637.6 M620.1,717.5H629.6 M620.1,749.6H637.6 M620.1,781.8H629.6 M620.1,814.0H637.6" stroke="#000" stroke-width="2.1" fill="none"/>
<text x="147.9" y="17.2" fill="#000" stroke="#000" stroke-width="0.25" font-size="21.5" text-anchor="middle">1000</text>
<text x="147.9" y="846.8" fill="#000" stroke="#000" stroke-width="0.25" font-size="21.5" text-anchor="middle">1000</text>
<text x="200.4" y="17.2" fill="#000" stroke="#000" stroke-width="0.25" font-size="21.5" text-anchor="middle">1100</text>
<text x="200.4" y="846.8" fill="#000" stroke="#000" stroke-width="0.25" font-size="21.5" text-anchor="middle">1100</text>
<text x="252.8" y="17.2" fill="#000" stroke="#000" stroke-width="0.25" font-size="21.5" text-anchor="middle">1200</text>
<text x="252.8" y="846.8" fill="#000" stroke="#000" stroke-width="0.25" font-size="21.5" text-anchor="middle">1200</text>
<text x="305.3" y="17.2" fill="#000" stroke="#000" stroke-width="0.25" font-size="21.5" text-anchor="middle">1300</text>
<text x="305.3" y="846.8" fill="#000" stroke="#000" stroke-width="0.25" font-size="21.5" text-anchor="middle">1300</text>
<text x="357.8" y="17.2" fill="#000" stroke="#000" stroke-width="0.25" font-size="21.5" text-anchor="middle">1400</text>
<text x="357.8" y="846.8" fill="#000" stroke="#000" stroke-width="0.25" font-size="21.5" text-anchor="middle">1400</text>
<text x="410.2" y="17.2" fill="#000" stroke="#000" stroke-width="0.25" font-size="21.5" text-anchor="middle">1500</text>
<text x="410.2" y="846.8" fill="#000" stroke="#000" stroke-width="0.25" font-size="21.5" text-anchor="middle">1500</text>
<text x="462.7" y="17.2" fill="#000" stroke="#000" stroke-width="0.25" font-size="21.5" text-anchor="middle">1600</text>
<text x="462.7" y="846.8" fill="#000" stroke="#000" stroke-width="0.25" font-size="21.5" text-anchor="middle">1600</text>
<text x="515.2" y="17.2" fill="#000" stroke="#000" stroke-width="0.25" font-size="21.5" text-anchor="middle">1700</text>
<text x="515.2" y="846.8" fill="#000" stroke="#000" stroke-width="0.25" font-size="21.5" text-anchor="middle">1700</text>
<text x="567.6" y="17.2" fill="#000" stroke="#000" stroke-width="0.25" font-size="21.5" text-anchor="middle">1800</text>
<text x="567.6" y="846.8" fill="#000" stroke="#000" stroke-width="0.25" font-size="21.5" text-anchor="middle">1800</text>
<text x="620.1" y="17.2" fill="#000" stroke="#000" stroke-width="0.25" font-size="21.5" text-anchor="middle">1900</text>
<text x="620.1" y="846.8" fill="#000" stroke="#000" stroke-width="0.25" font-size="21.5" text-anchor="middle">1900</text>
<text x="390.0" y="882.3" fill="#000" stroke="#000" stroke-width="0.25" font-size="26.5" text-anchor="middle">Year (AD)</text>
<text x="642.4" y="43.4" fill="#7f3f12" stroke="#7f3f12" stroke-width="0.25" font-size="21.7" text-anchor="start">1.4</text>
<text x="642.4" y="106.1" fill="#7f3f12" stroke="#7f3f12" stroke-width="0.25" font-size="21.7" text-anchor="start">0.0</text>
<text x="642.4" y="168.9" fill="#7f3f12" stroke="#7f3f12" stroke-width="0.25" font-size="21.7" text-anchor="start">-1.4</text>
<text x="641.8" y="203.7" fill="#4a0ca6" stroke="#4a0ca6" stroke-width="0.25" font-size="24.0" text-anchor="start">0.3</text>
<text x="641.8" y="267.3" fill="#4a0ca6" stroke="#4a0ca6" stroke-width="0.25" font-size="24.0" text-anchor="start">0.0</text>
<text x="641.8" y="330.9" fill="#4a0ca6" stroke="#4a0ca6" stroke-width="0.25" font-size="24.0" text-anchor="start">-0.3</text>
<text x="642.5" y="367.8" fill="#e8201a" stroke="#e8201a" stroke-width="0.25" font-size="22.0" text-anchor="start">90</text>
<text x="642.5" y="430.2" fill="#e8201a" stroke="#e8201a" stroke-width="0.25" font-size="22.0" text-anchor="start">0</text>
<text x="642.5" y="492.6" fill="#e8201a" stroke="#e8201a" stroke-width="0.25" font-size="22.0" text-anchor="start">-90</text>
<text x="640.5" y="529.6" fill="#be5a14" stroke="#be5a14" stroke-width="0.25" font-size="24.0" text-anchor="start">240</text>
<text x="640.5" y="591.7" fill="#be5a14" stroke="#be5a14" stroke-width="0.25" font-size="24.0" text-anchor="start">0</text>
<text x="640.5" y="653.7" fill="#be5a14" stroke="#be5a14" stroke-width="0.25" font-size="24.0" text-anchor="start">-240</text>
<text x="641.8" y="692.4" fill="#284e80" stroke="#284e80" stroke-width="0.25" font-size="24.0" text-anchor="start">0.4</text>
<text x="641.8" y="756.8" fill="#284e80" stroke="#284e80" stroke-width="0.25" font-size="24.0" text-anchor="start">0.0</text>
<text x="641.8" y="821.1" fill="#284e80" stroke="#284e80" stroke-width="0.25" font-size="24.0" text-anchor="start">-0.4</text>
<text x="66.2" y="77.8" fill="#7f3f12" stroke="#7f3f12" stroke-width="0.25" font-size="26.0" text-anchor="middle">(A)</text>
<text x="63.2" y="109.3" fill="#7f3f12" stroke="#7f3f12" stroke-width="0.25" font-size="26.0" text-anchor="middle">Epidemic</text>
<text x="66.6" y="141.5" fill="#7f3f12" stroke="#7f3f12" stroke-width="0.25" font-size="26.0" text-anchor="middle">Event</text>
<text x="62.0" y="255.8" fill="#4a0ca6" stroke="#4a0ca6" stroke-width="0.25" font-size="26.0" text-anchor="middle">(B)</text>
<text x="62.1" y="287.4" fill="#4a0ca6" stroke="#4a0ca6" stroke-width="0.25" font-size="26.0" text-anchor="middle">CPI</text>
<text x="63.1" y="418.3" fill="#e8201a" stroke="#e8201a" stroke-width="0.25" font-size="26.0" text-anchor="middle">(C)</text>
<text x="64.1" y="449.7" fill="#e8201a" stroke="#e8201a" stroke-width="0.25" font-size="26.0" text-anchor="middle">Thinker No.</text>
<text x="62.0" y="580.3" fill="#2e8c28" stroke="#2e8c28" stroke-width="0.25" font-size="26.0" text-anchor="middle">(D)</text>
<text x="62.0" y="611.3" fill="#2e8c28" stroke="#2e8c28" stroke-width="0.25" font-size="26.0" text-anchor="middle">Score</text>
<text x="62.0" y="742.5" fill="#161890" stroke="#161890" stroke-width="0.25" font-size="26.0" text-anchor="middle">(E)</text>
<text x="61.5" y="773.8" fill="#161890" stroke="#161890" stroke-width="0.25" font-size="26.0" text-anchor="middle">SDTI</text>
</svg>
</body></html>
